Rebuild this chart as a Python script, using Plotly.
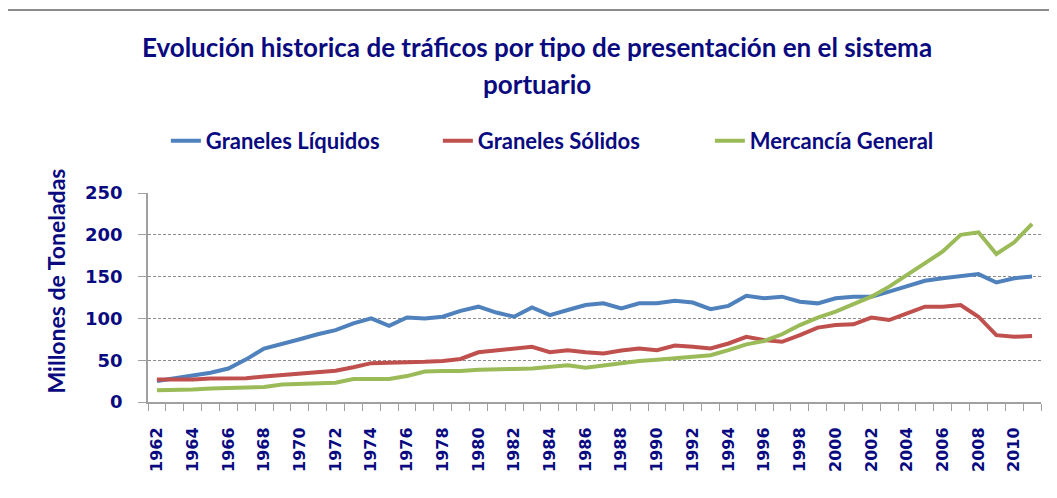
import plotly.graph_objects as go

years = list(range(1962, 2012))

graneles_liquidos = [25, 28, 32, 35, 40, 51, 64, 69, 75, 81,
                     86, 94, 100, 91, 101, 100, 102, 109, 114, 107,
                     102, 113, 104, 110, 116, 118, 112, 118, 118, 121,
                     119, 111, 115, 127, 124, 126, 120, 118, 124, 126,
                     126, 132, 138, 145, 148, 150, 153, 143, 148, 150]

graneles_solidos = [27, 26.5, 27, 28, 28, 28.5, 30.5, 32, 34, 35,
                    37.5, 41.5, 46.5, 47, 47, 48, 49, 51.5, 59.5, 62,
                    64, 66, 59.5, 62, 59.5, 58, 61.5, 64, 62, 67.5,
                    66, 64, 70, 78, 74, 72, 80, 89, 92, 93,
                    101, 98, 106, 114, 114, 116, 102, 80, 78, 79]

mercancia_general = [14, 14, 15, 16, 16.5, 17, 18, 21, 22, 22,
                     23, 27.5, 27.5, 27.5, 31, 36.5, 37, 37, 38.5, 39.5,
                     39.5, 40, 42.5, 44, 41, 44, 46.5, 49, 50.5, 52,
                     53.5, 56, 62, 69, 73, 81, 92, 101, 108, 117,
                     126, 138, 152, 165, 180, 200, 203, 177, 191, 213]

series_names = ["Graneles Líquidos", "Graneles Sólidos", "Mercancía General"]
series_colors = ["#4F81BD", "#C0504D", "#9BBB59"]

y_ticks = [0, 50, 100, 150, 200, 250]
x_ticks = list(range(1962, 2012, 2))

NAVY = "#0A0A80"
TEXT_FONT = "Lato, 'Open Sans', sans-serif"
TICK_FONT = "Verdana, 'DejaVu Sans', sans-serif"

# page body has an 8px default margin: figure is 1049x490 so it fits the 1057x498 window
W, H = 1049, 490
PLOT_L, PLOT_W, PLOT_B, PLOT_H = 140, 893, 394, 209  # figure coords


def px(xf):  # figure x pixel -> paper x
    return (xf - PLOT_L) / PLOT_W


def py(yf):  # figure y pixel -> paper y
    return (PLOT_B - yf) / PLOT_H


fig = go.Figure()
for name, vals, col in zip(series_names,
                           [graneles_liquidos, graneles_solidos, mercancia_general],
                           series_colors):
    fig.add_trace(go.Scatter(x=years, y=vals, mode="lines", name=name,
                             line=dict(color=col, width=4)))

fig.update_layout(
    width=W, height=H,
    margin=dict(l=PLOT_L, r=W - PLOT_L - PLOT_W, t=PLOT_B - PLOT_H, b=H - PLOT_B,
                autoexpand=False),
    paper_bgcolor="white", plot_bgcolor="white",
    showlegend=True,
    legend=dict(orientation="h", x=0.02, xanchor="left", y=py(133), yanchor="middle",
                font=dict(family=TEXT_FONT, size=22, color=NAVY, weight="bold"),
                entrywidth=227, entrywidthmode="pixels",
                bgcolor="rgba(0,0,0,0)"),
    title=dict(text="Evolución historica de tráficos por tipo de presentación en el sistema",
               x=529 / W, xanchor="center", xref="container",
               y=1 - 40 / H, yanchor="middle", yref="container",
               font=dict(family=TEXT_FONT, size=26, color=NAVY, weight="bold")),
    annotations=[
        dict(text="portuario", xref="paper", yref="paper",
             x=px(529), y=py(76), xanchor="center", yanchor="middle",
             showarrow=False,
             font=dict(family=TEXT_FONT, size=26, color=NAVY, weight="bold")),
        dict(text="Millones de Toneladas", xref="paper", yref="paper",
             x=px(47), y=py(273.5), xanchor="center", yanchor="middle",
             textangle=-90, showarrow=False,
             font=dict(family=TEXT_FONT, size=23, color=NAVY, weight="bold")),
    ],
    shapes=[
        dict(type="rect", xref="paper", yref="paper",
             x0=px(-4), x1=px(W + 20), y0=py(H + 20), y1=py(2),
             line=dict(color="#8C8C8C", width=2), fillcolor="rgba(0,0,0,0)", layer="below"),
    ],
)

fig.update_xaxes(
    range=[1961.5, 2011.5], tickmode="array", tickvals=x_ticks,
    ticktext=[str(v) for v in x_ticks], tickangle=-90,
    ticks="", ticklabelstandoff=17, automargin=False,
    tickfont=dict(family=TICK_FONT, size=16, color=NAVY, weight="bold"),
    showgrid=False, zeroline=False,
    showline=True, linecolor="#A0A0A0", linewidth=2,
    minor=dict(tickmode="linear", tick0=1961.5, dtick=1, ticks="outside",
               ticklen=7, tickcolor="#A0A0A0", tickwidth=1, showgrid=False),
)

fig.update_yaxes(
    range=[0, 250], tickmode="array", tickvals=y_ticks,
    ticks="outside", ticklen=8, tickcolor="#A0A0A0", tickwidth=1,
    ticklabelstandoff=12, automargin=False,
    tickfont=dict(family=TICK_FONT, size=18, color=NAVY, weight="bold"),
    showgrid=True, gridcolor="#8C8C8C", gridwidth=1, griddash="3px,2px",
    zeroline=False, showline=True, linecolor="#A0A0A0", linewidth=1.5,
)

fig.write_html("out.html")
